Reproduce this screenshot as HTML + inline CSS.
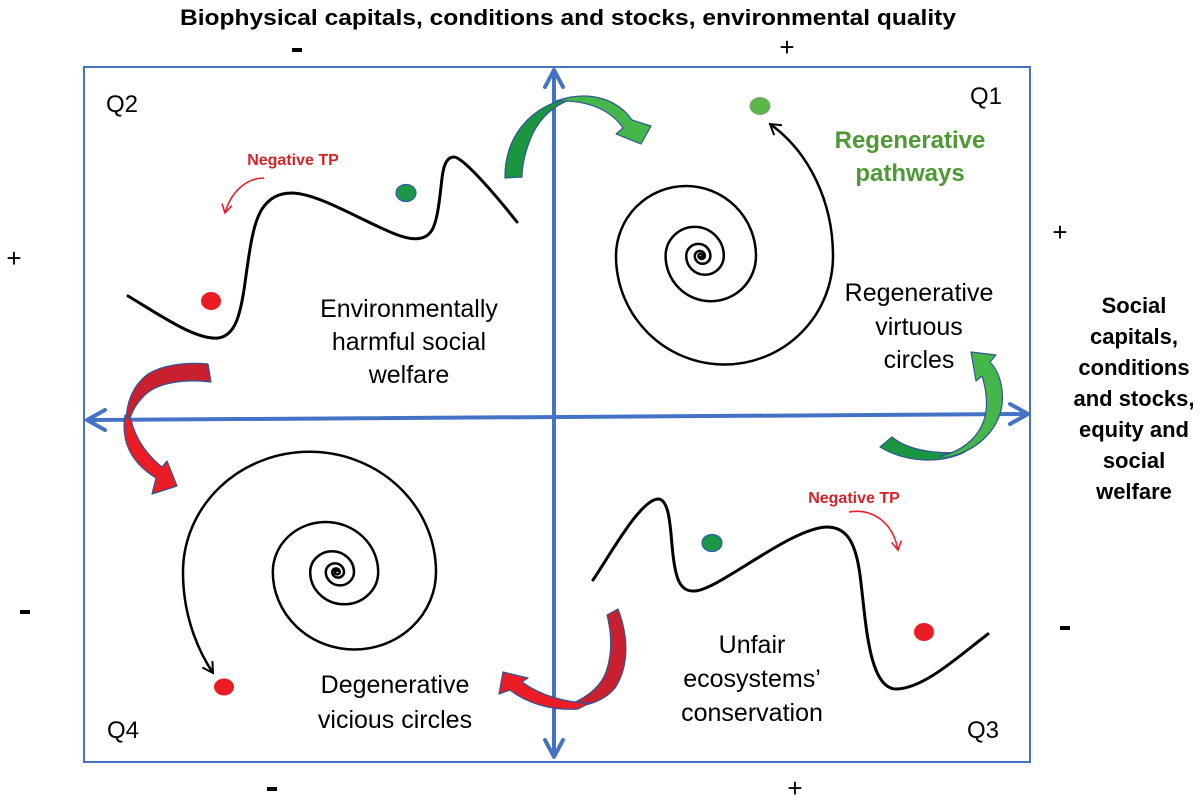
<!DOCTYPE html>
<html>
<head>
<meta charset="utf-8">
<style>
  html, body { margin: 0; padding: 0; background: #ffffff; }
  body { width: 1200px; height: 801px; overflow: hidden; }
  svg { display: block; }
  text { font-family: "Liberation Sans", Arial, sans-serif; }
</style>
</head>
<body>
<svg width="1200" height="801" viewBox="0 0 1200 801" xmlns="http://www.w3.org/2000/svg">
  <rect x="0" y="0" width="1200" height="801" fill="#ffffff"/>

  <!-- Title -->
  <text x="568" y="25" font-size="22" font-weight="bold" text-anchor="middle" textLength="776" lengthAdjust="spacingAndGlyphs" fill="#000">Biophysical capitals, conditions and stocks, environmental quality</text>

  <!-- Signs -->
  <rect x="292" y="48" width="10" height="4" fill="#000"/>
  <text x="787" y="56" font-size="26" text-anchor="middle" fill="#000">+</text>
  <text x="14" y="267" font-size="26" text-anchor="middle" fill="#000">+</text>
  <rect x="20" y="610" width="10" height="4" fill="#000"/>
  <text x="1060" y="241" font-size="26" text-anchor="middle" fill="#000">+</text>
  <rect x="1060" y="626" width="10" height="4" fill="#000"/>
  <rect x="267" y="787" width="10" height="4" fill="#000"/>
  <text x="795" y="797" font-size="26" text-anchor="middle" fill="#000">+</text>

  <!-- Right label -->
  <g font-size="22" font-weight="bold" text-anchor="middle" fill="#000">
    <text x="1134" y="313">Social</text>
    <text x="1134" y="344">capitals,</text>
    <text x="1134" y="375">conditions</text>
    <text x="1134" y="406">and stocks,</text>
    <text x="1134" y="437">equity and</text>
    <text x="1134" y="468">social</text>
    <text x="1134" y="499">welfare</text>
  </g>

  <!-- Frame -->
  <rect x="84" y="67" width="946" height="695" fill="none" stroke="#4472c4" stroke-width="2"/>

  <!-- Axes -->
  <g stroke="#4472c4" stroke-width="4" fill="none" stroke-linecap="round" stroke-linejoin="round">
    <line x1="554" y1="71" x2="554" y2="756"/>
    <polyline points="545,87 554,70 563,87"/>
    <polyline points="545,740 554,757 563,740"/>
    <line x1="88" y1="420" x2="1026" y2="414"/>
    <polyline points="105,410 87,420 105,430"/>
    <polyline points="1010,404 1028,414 1010,424"/>
  </g>

  <!-- Q labels -->
  <g font-size="24" fill="#000">
    <text x="106" y="112">Q2</text>
    <text x="970" y="104">Q1</text>
    <text x="107" y="738">Q4</text>
    <text x="967" y="738">Q3</text>
  </g>

  <!-- Q2 wavy curve -->
  <path d="M128,296 C160,315 195,340 218,338 C235,336 240,315 244,290 C249,255 252,225 262,209 C270,197 280,193 292,193 C320,194 360,220 395,234 C410,240 425,242 432,230 C438,220 440,195 442,178 C444,162 448,157 454,157 C462,157 490,188 517,222" fill="none" stroke="#000" stroke-width="3" stroke-linecap="round"/>
  <ellipse cx="406" cy="193" rx="10" ry="8.5" fill="#1a9848" stroke="#2e5ea8" stroke-width="1.2"/>
  <ellipse cx="211" cy="301" rx="10" ry="9" fill="#ec1c24"/>
  <text x="293" y="165" font-size="16" font-weight="bold" fill="#d7222a" text-anchor="middle">Negative TP</text>
  <path d="M264,178 C246,178 231,192 225,213" fill="none" stroke="#e8202a" stroke-width="1.6"/>
  <polyline points="231.8,205.7 225,213 222,203.5" fill="none" stroke="#e8202a" stroke-width="1.6"/>

  <g font-size="25" fill="#000" text-anchor="middle">
    <text x="409" y="317">Environmentally</text>
    <text x="409" y="350">harmful social</text>
    <text x="409" y="383">welfare</text>
  </g>

  <!-- Q1 spiral (semicircle spiral) -->
  <path d="M699.9,256 A1.35,1.35 0 0,0 702.6,256 A2.1,2.1 0 0,0 698.4,256 A3.26,3.26 0 0,0 704.9,256 A5.05,5.05 0 0,0 694.8,256 A7.8,7.8 0 0,0 710.4,256 A12.1,12.1 0 0,0 686.2,256 A18.8,18.8 0 0,0 723.8,256 A29.1,29.1 0 0,0 665.6,256 A45.2,45.2 0 0,0 756,256 A70,70 0 0,0 616,256 A108.5,108.5 0 0,0 833,256 A130,154 0 0,0 770,124" fill="none" stroke="#000" stroke-width="2.5"/>
  <polyline points="774.2,135.2 770,124 782,125.3" fill="none" stroke="#000" stroke-width="2"/>
  <ellipse cx="760" cy="106" rx="10" ry="8.5" fill="#5bb749" stroke="#8aa07a" stroke-width="1"/>
  <g font-size="24" font-weight="bold" fill="#4d9a35" text-anchor="middle">
    <text x="910" y="148">Regenerative</text>
    <text x="910" y="181">pathways</text>
  </g>
  <g font-size="25" fill="#000" text-anchor="middle">
    <text x="919" y="301">Regenerative</text>
    <text x="919" y="335">virtuous</text>
    <text x="919" y="368">circles</text>
  </g>

  <!-- Q4 spiral (semicircle spiral) -->
  <path d="M338.1,572 A1.58,1.5 0 0,0 334.9,572 A2.45,2.33 0 0,0 339.8,572 A3.8,3.6 0 0,0 332.2,572 A5.9,5.6 0 0,0 344,572 A9.1,8.6 0 0,0 325.8,572 A14.1,13.4 0 0,0 354,572 A21.9,20.8 0 0,0 310.2,572 A34,32.3 0 0,0 378.2,572 A52.7,50 0 0,0 272.8,572 A81.6,77.5 0 0,0 436,572 A126.5,120.2 0 0,0 183,572 A154,170 0 0,0 213,673" fill="none" stroke="#000" stroke-width="2.5"/>
  <polyline points="212.4,661 213,673 202.3,667.5" fill="none" stroke="#000" stroke-width="2"/>
  <ellipse cx="224" cy="687" rx="10" ry="8.5" fill="#ec1c24"/>
  <g font-size="25" fill="#000" text-anchor="middle">
    <text x="395" y="693">Degenerative</text>
    <text x="395" y="728">vicious circles</text>
  </g>

  <!-- Q3 wavy curve -->
  <path d="M593,580 C610,555 640,500 658,499 C668,499 670,520 672,545 C675,580 680,592 695,591 C720,589 790,528 827,527 C848,527 856,545 860,575 C866,620 868,690 897,689 C925,688 960,655 988,634" fill="none" stroke="#000" stroke-width="3" stroke-linecap="round"/>
  <ellipse cx="712" cy="543" rx="10" ry="8.5" fill="#1a9848" stroke="#2e5ea8" stroke-width="1.2"/>
  <ellipse cx="924" cy="632" rx="10" ry="9" fill="#ec1c24"/>
  <text x="854" y="503" font-size="16" font-weight="bold" fill="#d7222a" text-anchor="middle">Negative TP</text>
  <path d="M849,512 C872,508 893,522 898,550" fill="none" stroke="#e8202a" stroke-width="1.6"/>
  <polyline points="901.4,540.6 898,550 891.6,542.4" fill="none" stroke="#e8202a" stroke-width="1.6"/>
  <g font-size="25" fill="#000" text-anchor="middle">
    <text x="752" y="653">Unfair</text>
    <text x="752" y="687">ecosystems’</text>
    <text x="752" y="721">conservation</text>
  </g>

  <!-- Block arrows -->
  <g stroke="#2f5597" stroke-width="1.2" stroke-linejoin="round">
    <!-- top green -->
    <path d="M505,178 C504,140 528,103 578,97 C556,103 539,117 530,140 C525,153 522,165 522,177 Z" fill="#1a9641"/>
    <path d="M556,101 C590,89 618,100 632,120 L651,126 L641,144 L616,134 L623,128 C612,112 592,100 556,101 Z" fill="#45b649"/>
    <!-- right green -->
    <path d="M880,447 L892,437 C905,448 930,455 965,452 C945,462 910,465 880,447 Z" fill="#1a9641"/>
    <path d="M945,458 C975,452 998,432 1002,405 C1004,385 998,370 990,362 L996,355 L971,352 L976,381 L982,376 C987,392 988,408 984,420 C977,440 960,452 940,456 Z" fill="#45b649"/>
    <!-- left red -->
    <path d="M208,364 L211,382 C185,379 160,382 146,394 C137,402 131,412 127,428 C124,405 133,385 148,374 C163,365 185,362 208,364 Z" fill="#c92030"/>
    <path d="M125,415 C121,440 130,462 156,478 L152,494 L177,486 L167,461 L162,467 C148,456 136,440 131,420 Z" fill="#ec1c24"/>
    <!-- bottom red -->
    <path d="M607,615 L618,609 C628,635 630,665 615,688 C605,700 590,707 560,708 C585,700 600,688 606,672 C612,655 612,635 607,615 Z" fill="#c92030"/>
    <path d="M590,703 C565,703 540,695 522,682 L528,678 L503,672 L499,694 L510,690 C525,702 550,711 578,709 Z" fill="#ec1c24"/>
  </g>
</svg>
</body>
</html>
